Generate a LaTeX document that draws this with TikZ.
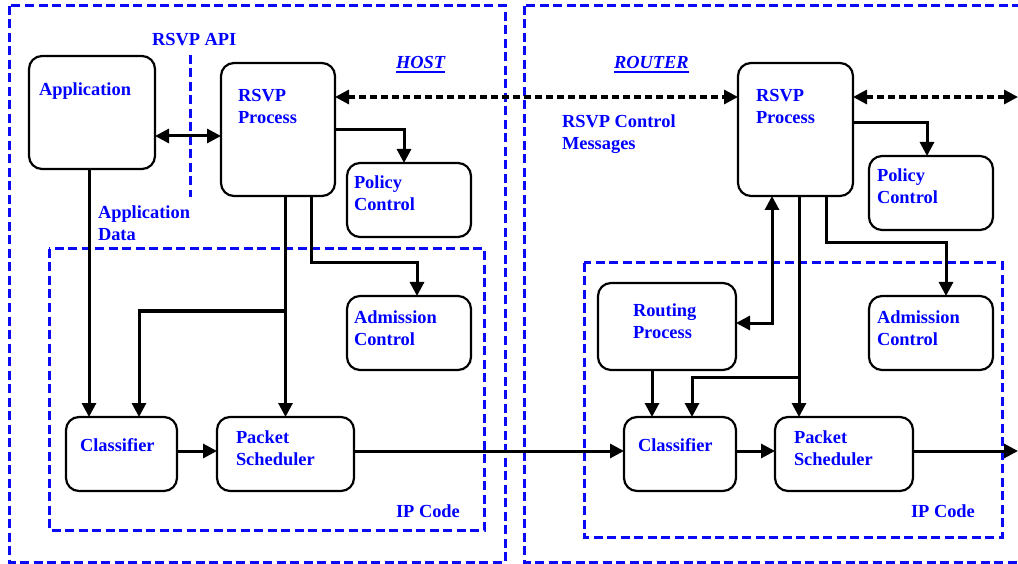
\documentclass[tikz,border=0pt]{standalone}
\usepackage{fontspec}
\setmainfont{Liberation Serif}
\usetikzlibrary{arrows.meta}
\definecolor{lblblue}{RGB}{0,0,255}
\definecolor{framblue}{RGB}{10,10,245}
\tikzset{
  box/.style={draw, line width=2.2pt, rounded corners=13pt, inner sep=0pt, outer sep=0pt},
  lbl/.style={inner sep=0pt, outer sep=0pt, anchor=base west, align=left, text=lblblue,
    font=\fontsize{18.4}{22}\selectfont\bfseries},
  frame/.style={draw=framblue, line width=3pt, dash pattern=on 9pt off 4.5pt},
  tip/.tip={Triangle[width=14pt,length=14pt]},
  arr/.style={line width=3pt, -tip},
  darr/.style={line width=3pt, tip-tip},
  ctl/.style={line width=3.2pt, dash pattern=on 7pt off 4pt, tip-tip},
  ul/.style={draw=lblblue, line width=1.5pt},
}
\begin{document}
\begin{tikzpicture}[x=1pt, y=-1pt]
\useasboundingbox (0,0) rectangle (1018,564);

% dashed frames: host, router, IP code
\draw[frame] (9,6) rectangle (505,562);
\draw[frame] (524,6) rectangle (1040,562);
\draw[frame] (49,249) rectangle (484,530);
\draw[frame] (584,263) rectangle (1002,537);
% RSVP API boundary
\draw[frame] (190,55) -- (190,197);

% host boxes
\node[box, minimum width=126pt, minimum height=113pt] (app)   at (92,112.5) {};
\node[box, minimum width=114pt, minimum height=133pt] (hrsvp) at (278,129.5) {};
\node[box, minimum width=124pt, minimum height=74pt]  (hpol)  at (409,200) {};
\node[box, minimum width=124pt, minimum height=74pt]  (hadm)  at (409,333) {};
\node[box, minimum width=111pt, minimum height=74pt]  (hcls)  at (121.5,454) {};
\node[box, minimum width=137pt, minimum height=74pt]  (hps)   at (285.5,454) {};

% router boxes
\node[box, minimum width=115pt, minimum height=133pt] (rrsvp) at (795.5,129.5) {};
\node[box, minimum width=124pt, minimum height=74pt]  (rpol)  at (931,193) {};
\node[box, minimum width=124pt, minimum height=74pt]  (radm)  at (931,333) {};
\node[box, minimum width=138pt, minimum height=87pt]  (rrp)   at (667,326.5) {};
\node[box, minimum width=112pt, minimum height=74pt]  (rcls)  at (680,454) {};
\node[box, minimum width=138pt, minimum height=74pt]  (rps)   at (844,454) {};

% labels (two-line labels are placed by the baseline of their last line)
\node[lbl] (appt)   at (39,96)   {Application};
\node[lbl] (hrsvpt) at (238,124) {RSVP\\Process};
\node[lbl] (hpolt)  at (354,211) {Policy\\Control};
\node[lbl] (hadmt)  at (354,345) {Admission\\Control};
\node[lbl] (hclst)  at (80,451)  {Classifier};
\node[lbl] (hpst)   at (236,465) {Packet\\Scheduler};
\node[lbl] (hipt)   at (396,517) {IP Code};
\node[lbl] (hostt)  at (396,69)  {\itshape HOST};
\node[lbl] (apit)   at (152,46)  {RSVP API};
\node[lbl] (adatat) at (98,241)  {Application\\Data};

\node[lbl] (routert) at (614,69)  {\itshape ROUTER};
\node[lbl] (ctlt)    at (562,150) {RSVP Control\\Messages};
\node[lbl] (rrsvpt)  at (756,124) {RSVP\\Process};
\node[lbl] (rpolt)   at (877,204) {Policy\\Control};
\node[lbl] (radmt)   at (877,345) {Admission\\Control};
\node[lbl] (rrpt)    at (633,338) {Routing\\Process};
\node[lbl] (rclst)   at (638,451) {Classifier};
\node[lbl] (rpst)    at (794,465) {Packet\\Scheduler};
\node[lbl] (ript)    at (911,517) {IP Code};

% underlines of the two titles
\draw[ul] ([yshift=-3pt]hostt.base west) -- ([yshift=-3pt]hostt.base east);
\draw[ul] ([yshift=-3pt]routert.base west) -- ([yshift=-3pt]routert.base east);

% free ends at the right border
\coordinate (ctlend) at (1018,97);
\coordinate (dataend) at (1018,451);
\coordinate (hbr) at (285.5,311);
\coordinate (rbr) at (799,377);

% host connectors
\draw[darr] ([yshift=-23.5pt]app.east) -- ([yshift=-23.5pt]app.east -| hrsvp.west);
\draw[arr] ([xshift=-3pt]app.south) -- ([xshift=-3pt]app.south |- hcls.north);
\draw[arr] (hps.north |- hrsvp.south) -- (hps.north);
\draw[arr] (hbr) -| ([xshift=17.5pt]hcls.north);
\draw[arr] ([xshift=33pt]hrsvp.south) -- ++(0,67) -| ([xshift=8pt]hadm.north);
\draw[arr] (hrsvp.east) -| ([xshift=-5pt]hpol.north);
\draw[arr] ([yshift=3pt]hcls.east) -- ([yshift=3pt]hcls.east -| hps.west);

% data path between host and router
\draw[arr] ([yshift=3pt]hps.east) -- ([yshift=3pt]hps.east -| rcls.west);
\draw[arr] ([yshift=3pt]rcls.east) -- ([yshift=3pt]rcls.east -| rps.west);
\draw[arr] ([yshift=3pt]rps.east) -- (dataend);

% RSVP control messages
\draw[ctl] ([yshift=-34pt]hrsvp.north east) -- ([yshift=-34pt]rrsvp.north west);
\draw[ctl] ([yshift=-34pt]rrsvp.north east) -- (ctlend);

% router connectors
\draw[arr] ([yshift=6.5pt]rrsvp.east) -| ([xshift=-4pt]rpol.north);
\draw[arr] ([xshift=30.5pt]rrsvp.south) -- ++(0,47) -| ([xshift=15pt]radm.north);
\draw[arr] ([xshift=-45pt]rps.north |- rrsvp.south) -- ([xshift=-45pt]rps.north);
\draw[arr] (rbr) -| ([xshift=12pt]rcls.north);
\draw[arr] ([xshift=-28pt]rcls.north |- rrp.south) -- ([xshift=-28pt]rcls.north);
\draw[darr] ([yshift=3.5pt]rrp.east) -| ([xshift=-23.5pt]rrsvp.south);
\end{tikzpicture}
\end{document}
